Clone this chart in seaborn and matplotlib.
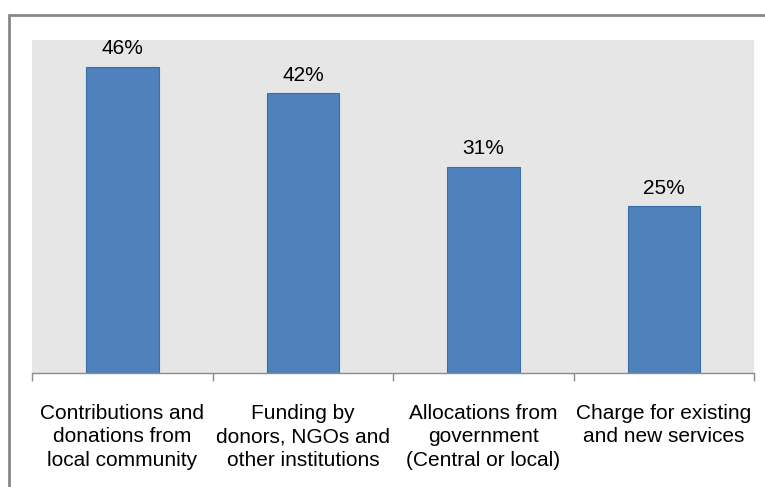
import matplotlib
matplotlib.use("Agg")
import matplotlib.pyplot as plt
from matplotlib.lines import Line2D
import seaborn as sns
import pandas as pd

# dados
categorias = [
    "Contributions and\ndonations from\nlocal community",
    "Funding by\ndonors, NGOs and\nother institutions",
    "Allocations from\ngovernment\n(Central or local)",
    "Charge for existing\nand new services",
]
valores = [46, 42, 31, 25]
rotulos = ["46%", "42%", "31%", "25%"]

sns.set_style("white")
plt.rcParams["font.family"] = ["Liberation Sans", "DejaVu Sans"]
plt.rcParams["text.color"] = "black"
plt.rcParams["xtick.color"] = "black"

df = pd.DataFrame({"cat": categorias, "val": valores})

fig = plt.figure(figsize=(7.65, 4.87), dpi=100)
ax = fig.add_axes([0.042, 0.234, 0.944, 0.684])
ax.set_facecolor("#E6E6E6")

sns.barplot(data=df, x="cat", y="val", ax=ax, width=0.4, color="#4F81BD",
            saturation=1, edgecolor="#3C6FA8", linewidth=0.8)

ax.bar_label(ax.containers[0], labels=rotulos, padding=6, fontsize=15, color="black")

ax.set_ylim(0, 50)
ax.set_xlim(-0.5, 3.5)
ax.set_yticks([])
ax.set_xlabel("")
ax.set_ylabel("")

for s in ["top", "right", "left"]:
    ax.spines[s].set_visible(False)
ax.spines["bottom"].set_color("#8C8C8C")
ax.spines["bottom"].set_linewidth(1)

# marcas entre as categorias
ax.set_xticks([-0.5, 0.5, 1.5, 2.5, 3.5], minor=True)
ax.tick_params(axis="x", which="minor", bottom=True, length=6,
               color="#8C8C8C", width=1)
ax.tick_params(axis="x", which="major", length=0, pad=22, labelsize=15,
               labelcolor="black")
for t in ax.get_xticklabels():
    t.set_multialignment("center")
    t.set_linespacing(1.3)

# moldura do grafico
fig.add_artist(Line2D([9 / 765, 1], [1 - 15 / 487, 1 - 15 / 487],
                      transform=fig.transFigure, color="#888888", lw=2))
fig.add_artist(Line2D([9 / 765, 9 / 765], [0, 1 - 15 / 487],
                      transform=fig.transFigure, color="#888888", lw=2))

fig.savefig("out.png", dpi=100)
